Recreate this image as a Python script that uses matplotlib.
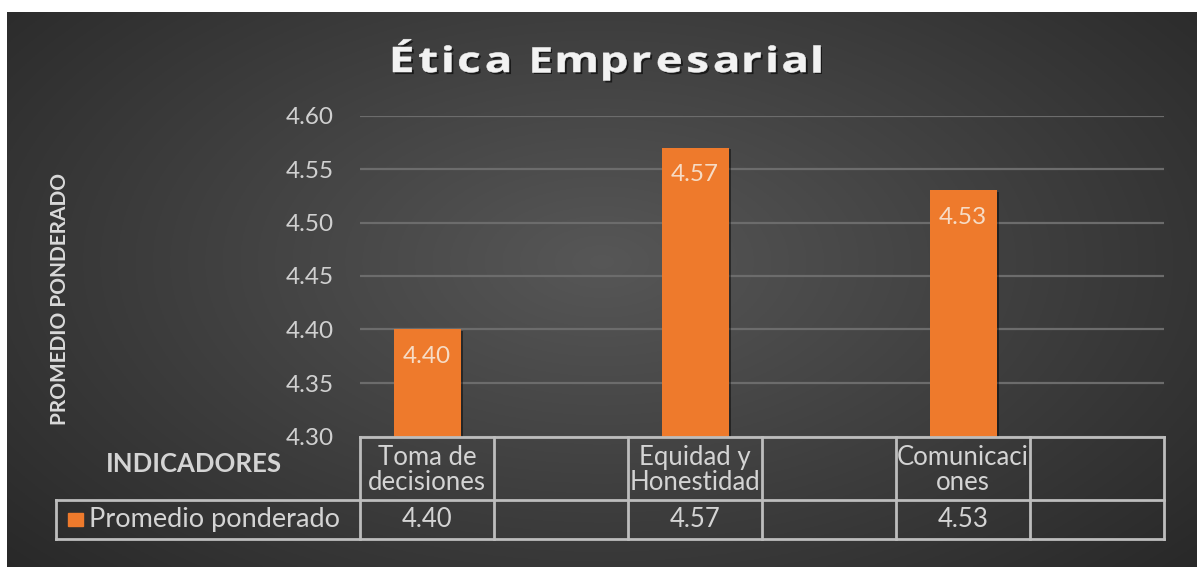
import numpy as np
import matplotlib
matplotlib.use("Agg")
import matplotlib.pyplot as plt
import matplotlib.patheffects as pe
from matplotlib.patches import Rectangle, PathPatch
from matplotlib.textpath import TextPath
from matplotlib.font_manager import FontProperties
from matplotlib.transforms import Affine2D

# Data table (empty columns are blank categories in the source sheet)
categories = ["Toma de\ndecisiones", "", "Equidad y\nHonestidad", "", "Comunicaci\nones", ""]
values = [4.40, np.nan, 4.57, np.nan, 4.53, np.nan]
series_name = "Promedio ponderado"
yticks = [4.30, 4.35, 4.40, 4.45, 4.50, 4.55, 4.60]
title = "Ética Empresarial"

W, H = 1197, 567
plt.rcParams["font.family"] = ["Lato", "DejaVu Sans"]
fig = plt.figure(figsize=(W / 100, H / 100), dpi=100)
fig.patch.set_facecolor("white")
px = Affine2D().scale(1 / W, 1 / H) + fig.transFigure  # figure pixels, origin bottom-left

# Dark radial background panel
bg = fig.add_axes([7 / W, 0, 1 - 7 / W, 1 - 12 / H])
bg.set_axis_off()
yy, xx = np.mgrid[0:1:300j, 0:1:600j]
r = np.sqrt(((xx - 0.5) / 0.75) ** 2 + ((yy - 0.55) / 0.9) ** 2)
shade = np.clip(0.34 - 0.2 * r, 0.15, 0.34)
bg.imshow(np.dstack([shade] * 3), aspect="auto", extent=[0, 1, 0, 1], origin="lower")

# Main plot area
x0, x1 = 360 / W, 1164 / W
y0, y1 = (H - 436.5) / H, (H - 115.5) / H
ax = fig.add_axes([x0, y0, x1 - x0, y1 - y0])
ax.patch.set_alpha(0)
n = len(categories)
xpos = np.arange(n)
ax.set_xlim(-0.5, n - 0.5)
ax.set_ylim(yticks[0], yticks[-1])
ax.set_yticks(yticks)
ax.set_yticklabels([f"{t:.2f}" for t in yticks])
ax.tick_params(axis="y", length=0, pad=19, labelsize=17.5, labelcolor="#d0d0d0")
ax.set_xticks([])
for s in ax.spines.values():
    s.set_visible(False)
ax.yaxis.grid(True, color="#6c6c6c", linewidth=1.6)
ax.set_axisbelow(True)

bar_color = "#ee7a2c"
vals = np.array(values, dtype=float)
bars = ax.bar(xpos, np.nan_to_num(vals, nan=yticks[0]) - yticks[0], bottom=yticks[0],
              width=0.5, color=bar_color, zorder=3,
              path_effects=[pe.SimplePatchShadow(offset=(2, -1), shadow_rgbFace="black", alpha=0.45),
                            pe.Normal()])
for b, v in zip(bars, vals):
    if np.isnan(v):
        b.set_visible(False)
        continue
    ax.text(b.get_x() + b.get_width() / 2, v - 0.025, f"{v:.2f}", ha="center", va="center",
            fontsize=17.5, color="#f6dcc6", zorder=4)

# Data table under the axis
tr = ax.get_xaxis_transform()
row_mid = -0.198
row_bot = -0.319
line_kw = dict(color="#bdbdbd", linewidth=2, transform=tr, clip_on=False, zorder=5)
leg_left = -0.5 - (360 - 56) / 134
ax.plot([-0.5, n - 0.5], [0, 0], **line_kw)
ax.plot([leg_left, n - 0.5], [row_mid, row_mid], **line_kw)
ax.plot([leg_left, n - 0.5], [row_bot, row_bot], **line_kw)
ax.plot([leg_left, leg_left], [row_mid, row_bot], **line_kw)
for k in range(n + 1):
    ax.plot([k - 0.5, k - 0.5], [0, row_bot], **line_kw)

txt_color = "#d4d4d4"
for xp, cat, v in zip(xpos, categories, vals):
    ax.text(xp, row_mid / 2 - 0.005, cat, transform=tr, ha="center", va="center",
            fontsize=18.5, color=txt_color, linespacing=1.0, clip_on=False)
    if not np.isnan(v):
        ax.text(xp, (row_mid + row_bot) / 2, f"{v:.2f}", transform=tr, ha="center",
                va="center", fontsize=18.5, color=txt_color, clip_on=False)

ax.text(-0.5 - (360 - 194) / 134, -0.085, "INDICADORES", transform=tr, ha="center",
        va="center", fontsize=18.5, fontweight="bold", color="#d4d4d4", clip_on=False)
sq_x = -0.5 - (360 - 68) / 134
ax.add_patch(Rectangle((sq_x, (row_mid + row_bot) / 2 - 0.019), 15 / 134, 0.038,
                       transform=tr, color=bar_color, clip_on=False, zorder=6))
ax.text(-0.5 - (360 - 89) / 134, (row_mid + row_bot) / 2, series_name, transform=tr,
        ha="left", va="center", fontsize=19.5, color=txt_color, clip_on=False)

# Axis title
fig.text(60 / W, 1 - 299 / H, "PROMEDIO PONDERADO", rotation=90, ha="center", va="center",
         fontsize=15, fontweight="bold", color="#d9d9d9")

# Chart title: wide, letter-spaced glyph outlines
fp = FontProperties(family="Open Sans", weight="bold")
glyph_size = 35
stretch = 1.3
paths = []
for ch in title:
    tp = TextPath((0, 0), ch if ch != " " else "i", size=glyph_size, prop=fp)
    ext = tp.get_extents()
    paths.append((ch, tp, ext.x0, ext.width * stretch))
left_px, right_px = 393, 820
gap = (right_px - left_px - sum(p[3] for p in paths)) / (len(title) - 1)
baseline = H - 72
xcur = left_px
for ch, tp, ox, w in paths:
    if ch != " ":
        t = Affine2D().translate(-ox, 0).scale(stretch, 1).translate(xcur, baseline) + px
        fig.patches.append(PathPatch(tp, transform=t, facecolor="#f2f2f2", edgecolor="#f2f2f2",
                                     linewidth=0.4, figure=fig,
                                     path_effects=[pe.withSimplePatchShadow(
                                         offset=(1.5, -1.5), shadow_rgbFace="black", alpha=0.6)]))
    xcur += w + gap

fig.savefig("out.png", dpi=100, facecolor=fig.get_facecolor())
